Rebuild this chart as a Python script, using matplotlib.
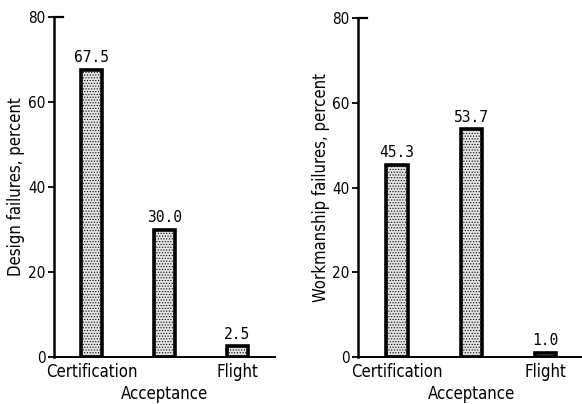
import matplotlib
matplotlib.use("Agg")
import matplotlib.pyplot as plt

categories = ["Certification", "Acceptance", "Flight"]
design_values = [67.5, 30.0, 2.5]
design_labels = ["67.5", "30.0", "2.5"]
workmanship_values = [45.3, 53.7, 1.0]
workmanship_labels = ["45.3", "53.7", "1.0"]
yticks = [0, 20, 40, 60, 80]

plt.rcParams['hatch.color'] = '#555555'
plt.rcParams['hatch.linewidth'] = 0.5

fig = plt.figure(figsize=(5.82, 4.04), dpi=100)

font = dict(family="DejaVu Sans", stretch="condensed", weight="normal")
mono = dict(family="DejaVu Sans Mono", weight="normal")

def panel(rect, values, labels, ylabel, xlim, ylabel_x):
    ax = fig.add_axes(rect)
    x = list(range(len(categories)))
    ax.bar(x, values, width=0.29, facecolor="#e4e4e4", edgecolor="black",
           linewidth=2.6, hatch="......", zorder=3)
    for xi, v, lab in zip(x, values, labels):
        ax.annotate(lab, (xi, v), xytext=(0, 3.5), textcoords="offset points",
                    ha="center", va="bottom", fontsize=10.5, **mono)
    ax.set_xlim(*xlim)
    ax.set_ylim(0, 80)
    ax.set_yticks(yticks)
    ax.set_yticklabels([str(t) for t in yticks], fontsize=11, **font)
    ax.set_xticks([])
    for s in ["top", "right"]:
        ax.spines[s].set_visible(False)
    ax.spines["left"].set_linewidth(1.8)
    ax.spines["bottom"].set_linewidth(1.4)
    ax.tick_params(axis="y", direction="out", length=4, width=1.3, pad=2)
    # top cap at 80
    ax.plot([0, 0.04], [1, 1], transform=ax.transAxes, color="black",
            lw=1.6, clip_on=False)
    # category labels
    for xi, c in zip(x, categories):
        y = -0.045 if xi != 1 else -0.108
        ax.text(xi, y, c, transform=ax.get_xaxis_transform(), ha="center",
                va="center", fontsize=12, **font)
    ax.text(ylabel_x, 0.5, ylabel, transform=ax.transAxes, rotation=90,
            ha="center", va="center", fontsize=12, **font)
    return ax

panel([54/582, 47/404, 221/582, 340/404], design_values, design_labels,
      "Design failures, percent", (-0.515, 2.52), -0.17)
panel([358/582, 47/404, 224/582, 339/404], workmanship_values, workmanship_labels,
      "Workmanship failures, percent", (-0.525, 2.49), -0.165)

fig.savefig("out.png", dpi=100)
